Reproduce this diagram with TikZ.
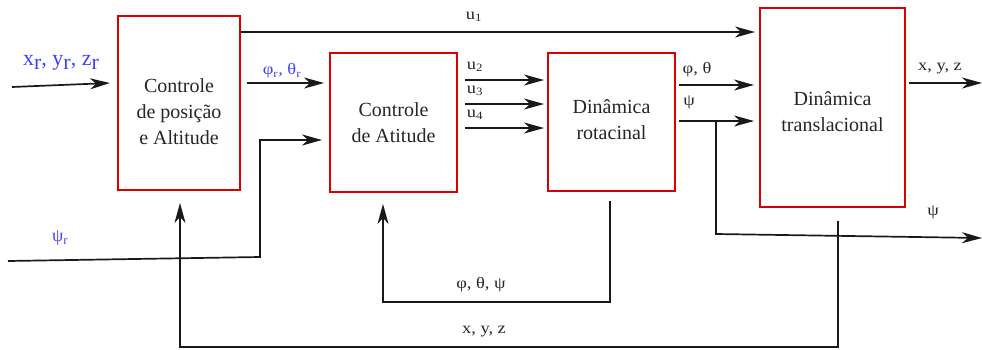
\documentclass[tikz,border=0pt]{standalone}
\usepackage{fontspec}
\setmainfont{Liberation Serif}
\usetikzlibrary{arrows.meta}
\newcommand{\wlab}[1]{\scalebox{1.15}[1]{#1}}
\begin{document}
\begin{tikzpicture}[x=1pt,y=-1pt,
  blk/.style={draw=red!85!black, line width=1.9pt, fill=white, inner sep=0pt},
  btxt/.style={font=\fontsize{20}{26}\selectfont, text=black!85, align=center},
  arr/.style={-{Stealth[length=20pt,width=11pt,inset=6pt]}, line width=1.7pt, black!90},
  lbl/.style={font=\fontsize{16}{19}\selectfont, inner sep=1pt, text=black!85},
  blbl/.style={font=\fontsize{22}{24}\selectfont, inner sep=1pt, text=blue!75!white}]
\useasboundingbox (0,0) rectangle (982,349);
% blocks
\node[blk, minimum width=122pt, minimum height=174pt] (b1) at (179,103) {};
\node[blk, minimum width=127pt, minimum height=139pt] (b2) at (393.5,122.5) {};
\node[blk, minimum width=127pt, minimum height=138pt] (b3) at (611.5,122) {};
\node[blk, minimum width=145pt, minimum height=199pt] (b4) at (832.5,107.5) {};
\node[btxt] (t1) at (179,112) {Controle\\de posição\\e Altitude};
\node[btxt] (t2) at (393.5,123) {Controle\\de Atitude};
\node[btxt] (t3) at (611.5,120) {Dinâmica\\rotacinal};
\node[btxt] (t4) at (832.5,112) {Dinâmica\\translacional};
% input x_r
\coordinate (xin) at (12,87);
\coordinate (xend) at (110,83);
\draw[arr] (xin) -- (xend);
\node[blbl] (lxr) at (61,63) {x\raisebox{-4pt}{r}, y\raisebox{-4pt}{r}, z\raisebox{-4pt}{r}};
% u1
\draw[arr, shorten >=4pt] (b1.east |- 0,32) -- (b4.west |- 0,32);
\node[lbl] (lu1) at (474,17) {\wlab{u\textsubscript{1}}};
% phi_r theta_r
\draw[arr, shorten <=6pt, shorten >=5pt] (b1.east |- 0,83) -- (b2.west |- 0,83);
\node[lbl, text=blue!75!white] (lpr) at (282,71) {\wlab{φ\textsubscript{r}, θ\textsubscript{r}}};
% psi_r
\coordinate (psir) at (8,261);
\coordinate (pk1) at (260,257);
\coordinate (pk2) at (260,140);
\draw[arr, shorten >=7pt] (psir) -- (pk1) -- (pk2) -- (b2.west |- pk2);
\node[blbl, font=\fontsize{18}{20}\selectfont] (lpsir) at (60,238) {ψ\textsubscript{r}};
% u2 u3 u4
\draw[arr, shorten <=7pt, shorten >=3pt] (b2.east |- 0,80) -- (b3.west |- 0,80);
\draw[arr, shorten <=7pt, shorten >=3pt] (b2.east |- 0,104) -- (b3.west |- 0,104);
\draw[arr, shorten <=7pt, shorten >=3pt] (b2.east |- 0,128) -- (b3.west |- 0,128);
\node[lbl] (lu2) at (475,67) {\wlab{u\textsubscript{2}}};
\node[lbl] (lu3) at (475,91) {\wlab{u\textsubscript{3}}};
\node[lbl] (lu4) at (475,115) {\wlab{u\textsubscript{4}}};
% phi theta, psi
\draw[arr, shorten <=3pt, shorten >=5pt] (b3.east |- 0,85) -- (b4.west |- 0,85);
\node[lbl] (lpt) at (697,70) {\wlab{φ, θ}};
\draw[arr, shorten <=3pt, shorten >=5pt] (b3.east |- 0,121) -- (b4.west |- 0,121);
\node[lbl] (lps) at (689,102) {\wlab{ψ}};
% psi branch
\coordinate (br) at (716,121);
\coordinate (brd) at (716,234);
\coordinate (psiout) at (982,238);
\draw[arr] (br) -- (brd) -- (psiout);
\node[lbl] (lpso) at (933,212) {\wlab{ψ}};
% output xyz
\coordinate (xyzout) at (982,83);
\draw[arr, shorten <=3pt] (b4.east |- xyzout) -- (xyzout);
\node[lbl] (lxyz) at (940,69) {\wlab{x, y, z}};
% feedback phi theta psi
\coordinate (f1a) at (610,302);
\coordinate (f1b) at (383,302);
\draw[arr, shorten >=11pt] ([yshift=-9pt]b3.south -| f1a) -- (f1a) -- (f1b) -- (b2.south -| f1b);
\node[lbl] (lf1) at (481,285) {\wlab{φ, θ, ψ}};
% feedback xyz
\coordinate (f2a) at (838,347);
\coordinate (f2b) at (180,347);
\draw[arr, shorten >=12pt] ([yshift=-13pt]b4.south -| f2a) -- (f2a) -- (f2b) -- (b1.south -| f2b);
\node[lbl] (lf2) at (484,332) {\wlab{x, y, z}};
\end{tikzpicture}
\end{document}
